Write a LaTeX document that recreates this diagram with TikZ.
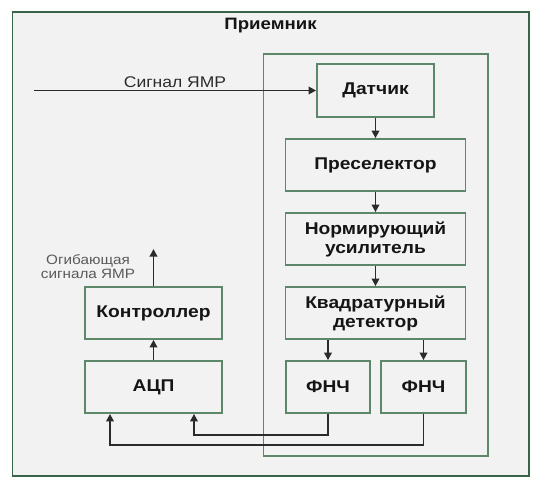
\documentclass[tikz,border=0pt]{standalone}
\usepackage{fontspec}
\setmainfont{Liberation Sans}[FakeStretch=1.13]
\usetikzlibrary{arrows.meta}
\definecolor{bg}{HTML}{F2F2F2}
\definecolor{frame}{HTML}{3A6449}
\definecolor{boxline}{HTML}{5C8769}
\definecolor{wirec}{HTML}{2B2B2B}
\definecolor{lbl}{HTML}{5A5A5A}
\definecolor{txt}{HTML}{151515}
\begin{document}
\begin{tikzpicture}[x=1pt,y=-1pt,
  blk/.style={draw=boxline,line width=1.8pt,fill=bg,inner sep=0pt,align=center,text=txt,
    font=\fontsize{17}{19}\selectfont\bfseries},
  wire/.style={draw=wirec,line width=1.8pt,-{Triangle[length=7.5pt,width=7.5pt]}},
  siglbl/.style={inner sep=0pt,text=wirec,font=\fontsize{15.5}{17}\selectfont},
  envlbl/.style={inner sep=0pt,align=center,text=lbl,font=\fontsize{13.5}{13.5}\selectfont},
  ttl/.style={inner sep=0pt,text=txt,font=\fontsize{16.5}{19}\selectfont\bfseries},
]
\useasboundingbox[fill=white] (0,0) rectangle (552,491);
\draw[draw=frame,fill=bg,line width=1.8pt] (12.5,12) rectangle (529,476);
\draw[draw=boxline,line width=1.8pt] (263.5,54) rectangle (488,456);
\node[ttl] (title) at (270.5,26) {Приемник};

\node[blk,minimum width=117pt,minimum height=53pt] (dat) at (375.5,90.5) {Датчик};
\node[blk,minimum width=180pt,minimum height=52pt] (pre) at (375.5,165) {Преселектор};
\node[blk,minimum width=180pt,minimum height=52pt] (norm) at (375.5,239) {Нормирующий\\усилитель};
\node[blk,minimum width=180pt,minimum height=52pt] (kv) at (375.5,313) {Квадратурный\\детектор};
\node[blk,minimum width=84pt,minimum height=52pt] (f1) at (328,387) {ФНЧ};
\node[blk,minimum width=85pt,minimum height=52pt] (f2) at (423.5,387) {ФНЧ};
\node[blk,minimum width=137pt,minimum height=52pt] (ctl) at (153.5,313) {Контроллер};
\node[blk,minimum width=137pt,minimum height=52pt] (adc) at (153.5,387) {АЦП};

\coordinate (sig) at (34,90.5);
\node[siglbl] (sigtext) at (175,82) {Сигнал ЯМР};
\draw[wire] (sig) -- (dat.west);
\draw[wire] (dat.south) -- (pre.north);
\draw[wire] (pre.south) -- (norm.north);
\draw[wire] (norm.south) -- (kv.north);
\draw[wire] (kv.south -| f1.north) -- (f1.north);
\draw[wire] (kv.south -| f2.north) -- (f2.north);
\draw[wire] (f1.south) -- ++(0,21) -| ([xshift=40.5pt]adc.south);
\draw[wire] (f2.south) -- ++(0,31) -| ([xshift=-43.5pt]adc.south);
\draw[wire] (adc.north) -- (ctl.south);
\coordinate (out) at (153.5,249);
\draw[wire] (ctl.north) -- (out);
\node[envlbl] (env) at (88,266.5) {Огибающая\\сигнала ЯМР};
\end{tikzpicture}
\end{document}
